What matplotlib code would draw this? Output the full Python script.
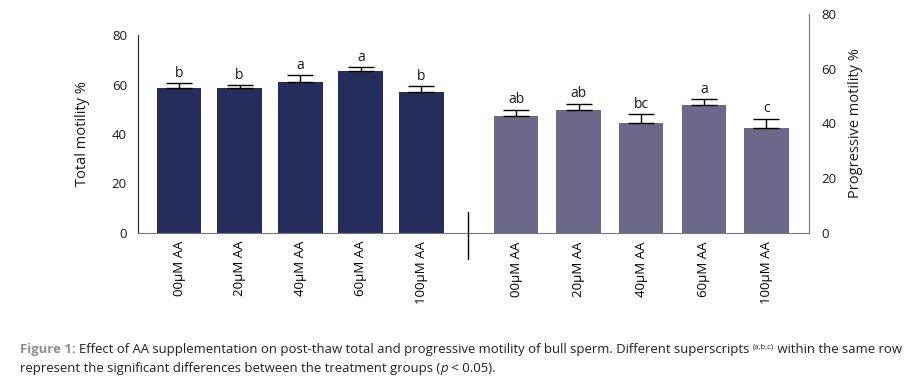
import matplotlib
matplotlib.use("Agg")
import matplotlib.pyplot as plt
from matplotlib.lines import Line2D

plt.rcParams['font.family'] = ['Open Sans', 'DejaVu Sans']

groups = ["00μM AA", "20μM AA", "40μM AA", "60μM AA", "100μM AA"]
total_motility = [58.6, 58.6, 61.1, 65.6, 57.1]
total_err = [2.1, 1.2, 2.7, 1.5, 2.3]
total_letters = ["b", "b", "a", "a", "b"]
prog_motility = [42.7, 44.9, 40.1, 46.7, 38.3]
prog_err = [2.2, 2.4, 3.2, 2.1, 3.3]
prog_letters = ["ab", "ab", "bc", "a", "c"]
yticks = [0, 20, 40, 60, 80]

W, H = 912, 384
fig = plt.figure(figsize=(W / 100, H / 100), dpi=100)

def rect(x0, y_top, x1, y_bot):
    return [x0 / W, 1 - y_bot / H, (x1 - x0) / W, (y_bot - y_top) / H]

dark = '#252d5c'
light = '#6b6889'

# Left axes (total motility)
ax1 = fig.add_axes(rect(138, 35.5, 468, 232.5))
x = list(range(len(groups)))
ax1.bar(x, total_motility, width=0.74, color=dark, zorder=2)
ax1.errorbar(x, total_motility, yerr=[[0] * 5, total_err], fmt='none',
             ecolor='black', elinewidth=1.0, capsize=9.6, capthick=1.0, zorder=3)
for xi, v, e, s in zip(x, total_motility, total_err, total_letters):
    ax1.text(xi, v + e + 1.0, s, ha='center', va='bottom', fontsize=10, color='#1a1a1a')
ax1.set_xlim(-0.677, 4.77)
ax1.set_ylim(0, 80)
ax1.set_yticks(yticks)
ax1.tick_params(axis='y', length=0, labelsize=9.5, pad=8, labelcolor='#1a1a1a')
ax1.set_xticks(x)
ax1.set_xticklabels(groups, rotation=90, va='top', ha='center', fontsize=9.5)
ax1.tick_params(axis='x', length=0, pad=6)
ax1.spines['top'].set_visible(False)
ax1.spines['right'].set_visible(False)
ax1.spines['left'].set_color('#222222')
ax1.spines['bottom'].set_color('#777777')
ax1.set_ylabel("Total motility %", fontsize=10.5, labelpad=16, color='#1a1a1a')
ax1.patch.set_visible(False)

# Right axes (progressive motility)
ax2 = fig.add_axes(rect(468, 14, 809, 233))
ax2.bar(x, prog_motility, width=0.71, color=light, zorder=2)
ax2.errorbar(x, prog_motility, yerr=[[0] * 5, prog_err], fmt='none',
             ecolor='black', elinewidth=1.0, capsize=9.6, capthick=1.0, zorder=3)
for xi, v, e, s in zip(x, prog_motility, prog_err, prog_letters):
    ax2.text(xi, v + e + 1.0, s, ha='center', va='bottom', fontsize=10, color='#1a1a1a')
ax2.set_xlim(-0.767, 4.68)
ax2.set_ylim(0, 80)
ax2.yaxis.tick_right()
ax2.yaxis.set_label_position('right')
ax2.set_yticks(yticks)
ax2.tick_params(axis='y', length=0, labelsize=9.5, pad=9, labelcolor='#1a1a1a')
ax2.set_xticks(x)
ax2.set_xticklabels(groups, rotation=90, va='top', ha='center', fontsize=9.5)
ax2.tick_params(axis='x', length=0, pad=6)
ax2.spines['top'].set_visible(False)
ax2.spines['left'].set_visible(False)
ax2.spines['right'].set_color('#777777')
ax2.spines['bottom'].set_color('#777777')
ax2.set_ylabel("Progressive motility %", fontsize=10.5, labelpad=8, color='#1a1a1a')
ax2.patch.set_visible(False)

# Divider line
fig.add_artist(Line2D([468 / W, 468 / W], [1 - 212 / H, 1 - 259 / H],
                      color='black', linewidth=1.0, transform=fig.transFigure))

# Caption
cap_font = ['Open Sans', 'DejaVu Sans']
renderer = fig.canvas.get_renderer()

def chain(pieces, x0, y):
    xp = x0
    for txt, kw in pieces:
        yy = y + kw.pop('dy', 0)
        t = fig.text(xp / W, 1 - yy / H, txt, ha='left', va='baseline',
                     family=cap_font, **kw)
        bb = t.get_window_extent(renderer=renderer)
        xp += bb.width
    return xp

fs = 9.45
chain([
    ("Figure 1: ", dict(fontsize=fs, color='#8e8e8e', fontweight='bold')),
    ("Effect of AA supplementation on post-thaw total and progressive motility of bull sperm. Different superscripts ",
     dict(fontsize=fs, color='#231f20')),
    ("(a,b,c)", dict(fontsize=5.5, color='#231f20', dy=-4)),
    (" within the same row", dict(fontsize=fs, color='#231f20')),
], 20, 353)
chain([
    ("represent the significant differences between the treatment groups (", dict(fontsize=fs, color='#231f20')),
    ("p", dict(fontsize=fs, color='#231f20', style='italic')),
    (" < 0.05).", dict(fontsize=fs, color='#231f20')),
], 20, 372)

fig.savefig("out.png", dpi=100)
